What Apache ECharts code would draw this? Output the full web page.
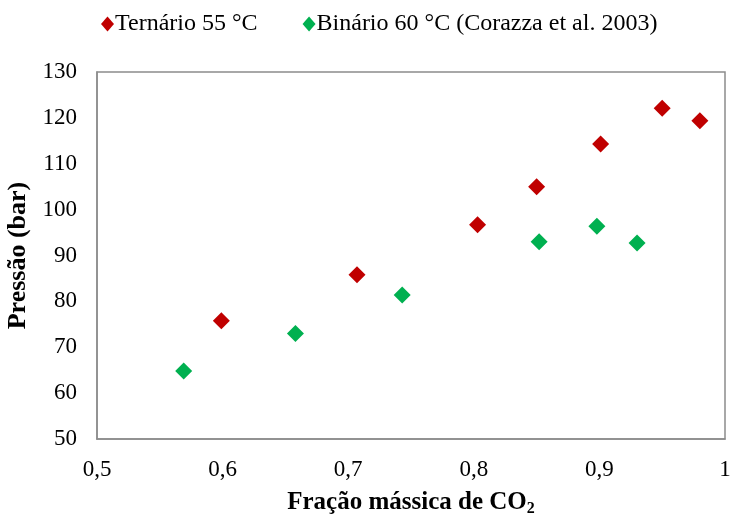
<!DOCTYPE html>
<html><head><meta charset="utf-8">
<script src="https://cdn.jsdelivr.net/npm/echarts@6/dist/echarts.min.js"></script>
<style>html,body{margin:0;padding:0;background:#fff}#c{width:733px;height:520px}</style>
</head><body><div id="c"></div>
<script>
const seriesNames = ['Ternário 55 °C', 'Binário 60 °C (Corazza et al. 2003)'];
const ternX = [0.599, 0.707, 0.803, 0.850, 0.901, 0.950, 0.980];
const ternY = [75.8, 85.8, 96.7, 105.0, 114.3, 122.1, 119.4];
const binX = [0.569, 0.658, 0.743, 0.852, 0.898, 0.930];
const binY = [64.8, 73.0, 81.4, 93.0, 96.4, 92.7];
const xTicks = [0.5, 0.6, 0.7, 0.8, 0.9, 1];
const yTicks = [50, 60, 70, 80, 90, 100, 110, 120, 130];

const font = '"Liberation Serif", "Times New Roman", serif';
const chart = echarts.init(document.getElementById('c'), null, {renderer: 'canvas'});
chart.setOption({
  animation: false,
  textStyle: {fontFamily: font},
  legend: {
    top: 7, left: 96,
    itemWidth: 13, itemHeight: 15, itemGap: 45,
    textStyle: {fontFamily: font, fontSize: 24, color: '#000', padding: [0,0,0,-4]},
    data: [{name: seriesNames[0], icon: 'diamond'}, {name: seriesNames[1], icon: 'diamond'}]
  },
  grid: {left: 97, right: 8, top: 72, bottom: 81, show: true, borderColor: '#8c8c8c', borderWidth: 1.5,
    outerBoundsMode: 'none', containLabel: false},
  xAxis: {
    type: 'value', min: 0.5, max: 1, interval: 0.1,
    axisLine: {show: true, lineStyle: {color: '#8c8c8c', width: 1.5}},
    axisTick: {show: false}, splitLine: {show: false},
    axisLabel: {fontFamily: font, fontSize: 23, color: '#000', margin: 19,
      formatter: v => { const t = xTicks.find(a => Math.abs(a - v) < 1e-6); return t === undefined ? '' : String(t).replace('.', ','); }},
    name: '{b|Fração mássica de CO}{s|2}', nameLocation: 'middle', nameGap: 50,
    nameTextStyle: {rich: {
      b: {fontFamily: font, fontSize: 25, fontWeight: 'bold', color: '#000'},
      s: {fontFamily: font, fontSize: 16, fontWeight: 'bold', color: '#000', verticalAlign: 'bottom', padding: [12,0,0,0]}
    }}
  },
  yAxis: {
    type: 'value', min: 50, max: 130, interval: 10,
    axisLine: {show: true, lineStyle: {color: '#8c8c8c', width: 1.5}},
    axisTick: {show: false}, splitLine: {show: false},
    axisLabel: {fontFamily: font, fontSize: 23, color: '#000', margin: 20,
      formatter: v => yTicks.includes(v) ? String(v) : ''},
    name: 'Pressão (bar)', nameLocation: 'middle', nameGap: 65,
    nameTextStyle: {fontFamily: font, fontSize: 26, fontWeight: 'bold', color: '#000'}
  },
  series: [
    {name: seriesNames[0], type: 'scatter', symbol: 'diamond', symbolSize: [17, 17],
     itemStyle: {color: '#c00000', opacity: 1}, data: ternX.map((x, i) => [x, ternY[i]])},
    {name: seriesNames[1], type: 'scatter', symbol: 'diamond', symbolSize: [17, 17],
     itemStyle: {color: '#00b050', opacity: 1}, data: binX.map((x, i) => [x, binY[i]])}
  ]
});
</script></body></html>
